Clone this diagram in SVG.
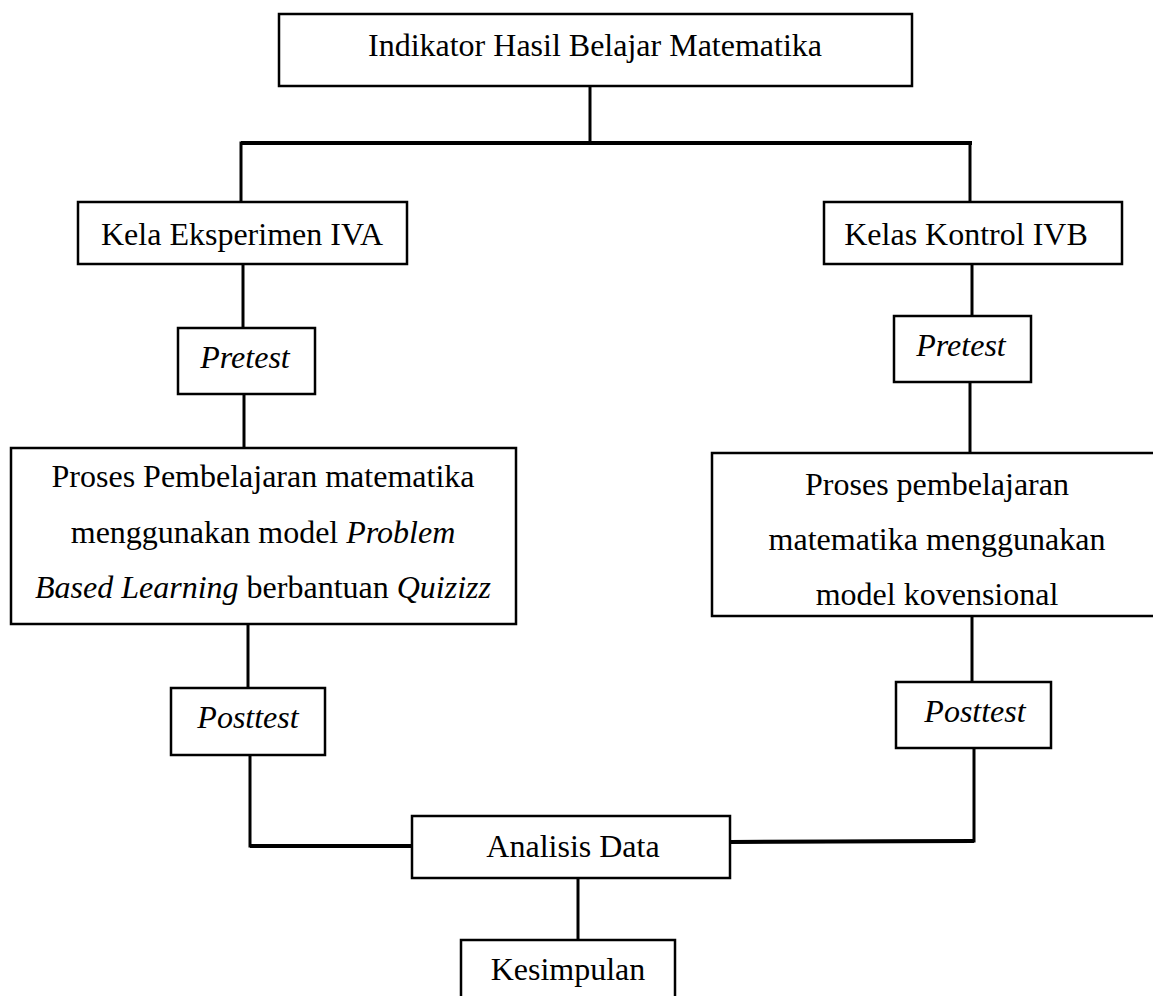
<svg xmlns="http://www.w3.org/2000/svg" width="1153" height="996" viewBox="0 0 1153 996">
<style>
.box{fill:#fff;stroke:#000;stroke-width:2.5}
.t{font-family:"Liberation Serif","Times New Roman",serif;font-size:32px;fill:#000;text-anchor:middle}
.i{font-style:italic}
.c{fill:none;stroke:#000;stroke-width:3;stroke-linecap:square}
.thick{stroke-width:4}
</style>
<rect width="1153" height="996" fill="#fff"/>
<g id="connectors">
<line class="c" x1="590" y1="86" x2="590" y2="143"/>
<line class="c thick" x1="243" y1="143" x2="970" y2="143"/>
<line class="c" x1="241" y1="143" x2="241" y2="202"/>
<line class="c" x1="970" y1="143" x2="970" y2="202"/>
<line class="c" x1="243" y1="264" x2="243" y2="328"/>
<line class="c" x1="244" y1="394" x2="244" y2="448"/>
<line class="c" x1="248" y1="624" x2="248" y2="688"/>
<polyline class="c" points="250,755 250,846 412,846"/>
<line class="c thick" x1="252" y1="846" x2="412" y2="846"/>
<polyline class="c" points="730,842 974,841 974,748"/>
<line class="c thick" x1="730" y1="842" x2="972" y2="841"/>
<line class="c" x1="972" y1="264" x2="972" y2="316"/>
<line class="c" x1="970" y1="382" x2="970" y2="453"/>
<line class="c" x1="972" y1="616" x2="972" y2="682"/>
<line class="c" x1="578" y1="878" x2="578" y2="940"/>
</g>
<g id="indikator">
<rect class="box" x="279" y="14" width="633" height="72"/>
<text class="t" x="595" y="56">Indikator Hasil Belajar Matematika</text>
</g>
<g id="eksperimen">
<rect class="box" x="78" y="202" width="329" height="62"/>
<text class="t" x="242" y="245">Kela Eksperimen IVA</text>
</g>
<g id="kontrol">
<rect class="box" x="824" y="202" width="298" height="62"/>
<text class="t" x="966" y="245">Kelas Kontrol IVB</text>
</g>
<g id="pretest-left">
<rect class="box" x="178" y="328" width="137" height="66"/>
<text class="t i" x="245" y="368">Pretest</text>
</g>
<g id="pretest-right">
<rect class="box" x="894" y="316" width="137" height="66"/>
<text class="t i" x="961" y="356">Pretest</text>
</g>
<g id="proses-left">
<rect class="box" x="11" y="448" width="505" height="176"/>
<text class="t" x="263" y="487">Proses Pembelajaran matematika</text>
<text class="t" x="263" y="543">menggunakan model <tspan class="i">Problem</tspan></text>
<text class="t" x="263" y="598"><tspan class="i">Based Learning</tspan> berbantuan <tspan class="i">Quizizz</tspan></text>
</g>
<g id="proses-right">
<rect class="box" x="712" y="453" width="450" height="163"/>
<text class="t" x="937" y="495">Proses pembelajaran</text>
<text class="t" x="937" y="550">matematika menggunakan</text>
<text class="t" x="937" y="605">model kovensional</text>
</g>
<g id="posttest-left">
<rect class="box" x="171" y="688" width="154" height="67"/>
<text class="t i" x="248" y="728">Posttest</text>
</g>
<g id="posttest-right">
<rect class="box" x="896" y="682" width="155" height="66"/>
<text class="t i" x="975" y="722">Posttest</text>
</g>
<g id="analisis">
<rect class="box" x="412" y="816" width="318" height="62"/>
<text class="t" x="573" y="857">Analisis Data</text>
</g>
<g id="kesimpulan">
<rect class="box" x="461" y="940" width="214" height="70"/>
<text class="t" x="568" y="980">Kesimpulan</text>
</g>
</svg>
